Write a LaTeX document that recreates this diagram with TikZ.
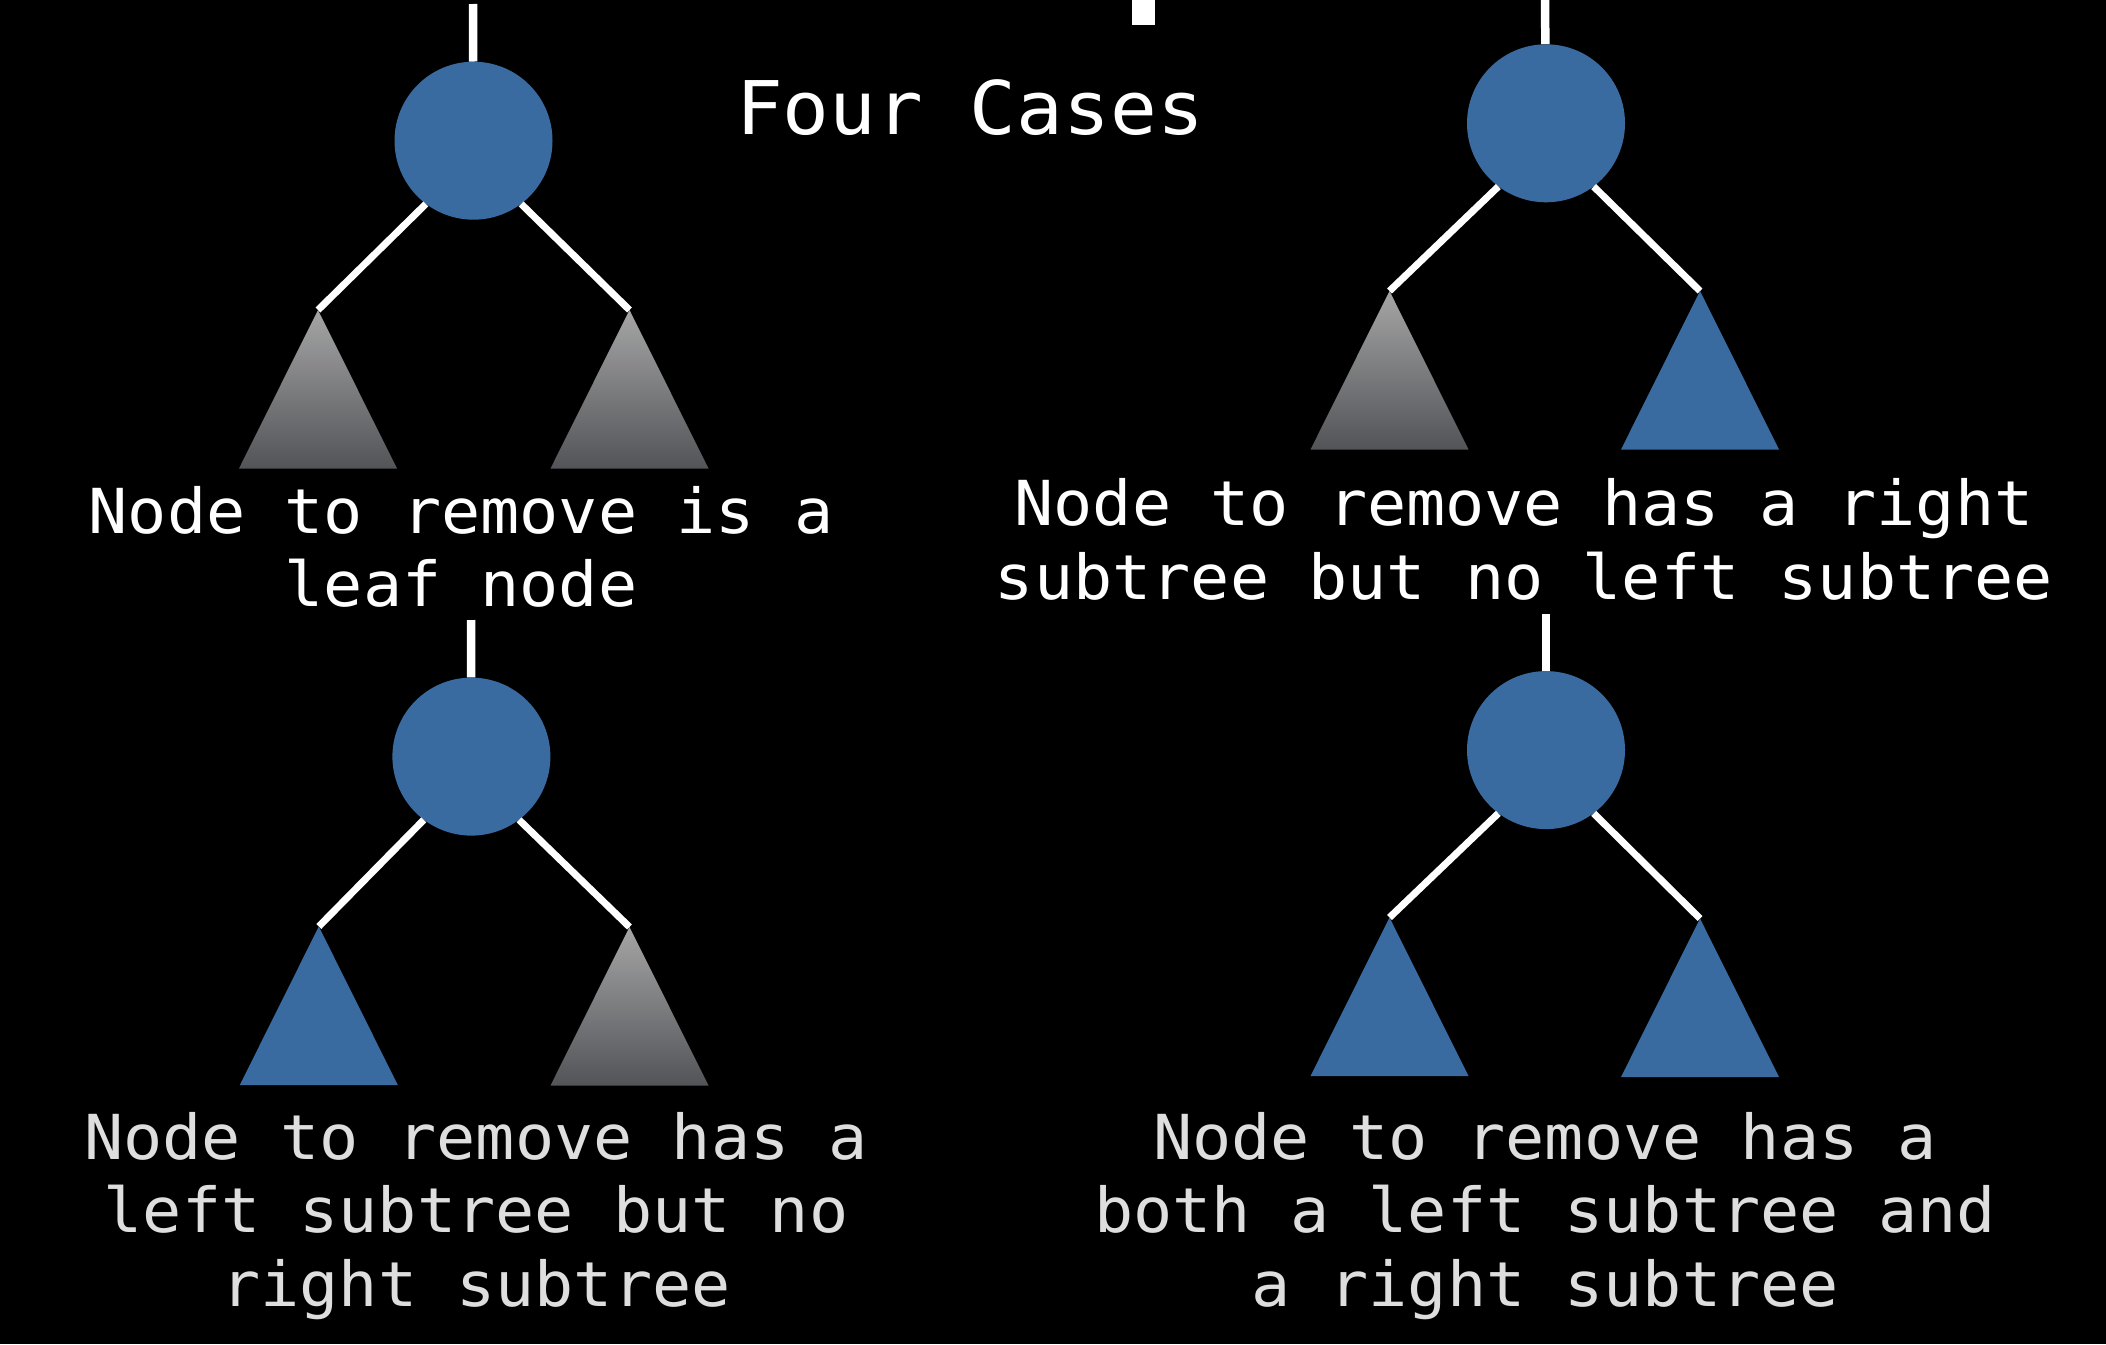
\documentclass[tikz,border=0pt]{standalone}
\usepackage{fontspec}
\newfontfamily\capfont[FakeStretch=1.05]{DejaVu Sans Mono}
\definecolor{nodeblue}{RGB}{58,107,160}
\definecolor{treetop}{RGB}{165,165,165}
\definecolor{treebot}{RGB}{82,84,88}
\definecolor{softtext}{RGB}{222,222,222}
\begin{document}
\begin{tikzpicture}[x=1pt,y=-1pt,
  bnode/.style={circle,fill=nodeblue,minimum size=158pt,inner sep=0pt},
  link/.style={draw=white,line width=7pt},
  stem/.style={draw=white,line width=8.5pt},
  blueTri/.style={fill=nodeblue},
  grayTri/.style={top color=treetop,bottom color=treebot},
  caption/.style={anchor=base,align=center,font=\capfont\fontsize{62}{73.5}\selectfont},
  ]
\fill[black] (0,0) rectangle (2106,1344);
\useasboundingbox (0,0) rectangle (2106,1344);

% title and top bar
\node[anchor=base,text=white,font=\capfont\fontsize{74}{86}\selectfont] (title) at (970,134.7) {Four Cases};
\fill[white] (1132,0) rectangle (1155,25);

% ---------- top-left: leaf node
\node[bnode] (tl) at (473.5,140.7) {};
\coordinate (tlTop) at (473,4);
\coordinate (tlL) at (318,310);
\coordinate (tlR) at (629.5,310);
\draw[stem] (tlTop) -- (tl);
\draw[link] (tl.233) -- (tlL);
\draw[link] (tl.307) -- (tlR);
\shade[grayTri] (tlL) -- ++(-79,158.5) -- ++(158,0) -- cycle;
\shade[grayTri] (tlR) -- ++(-79,158.5) -- ++(158,0) -- cycle;
\node[caption,text=white] (tlText) at (461,606.8) {Node to remove is a\\leaf node};

% ---------- top-right: right subtree only
\node[bnode] (tr) at (1546,123.3) {};
\coordinate (trTop) at (1545,0);
\coordinate (trL) at (1389.5,291);
\coordinate (trR) at (1700,291);
\draw[stem] (trTop) -- (tr);
\draw[link] (tr.233) -- (trL);
\draw[link] (tr.307) -- (trR);
\shade[grayTri] (trL) -- ++(-79,158.5) -- ++(158,0) -- cycle;
\fill[blueTri] (trR) -- ++(-79,158.5) -- ++(158,0) -- cycle;
\node[caption,text=white] (trText) at (1524,599) {Node to remove has a right\\subtree but no left subtree};

% ---------- bottom-left: left subtree only
\node[bnode] (bl) at (471.4,756.6) {};
\coordinate (blTop) at (471,620);
\coordinate (blL) at (318.8,926.5);
\coordinate (blR) at (629.5,927);
\draw[stem] (blTop) -- (bl);
\draw[link] (bl.233) -- (blL);
\draw[link] (bl.307) -- (blR);
\fill[blueTri] (blL) -- ++(-79,158.5) -- ++(158,0) -- cycle;
\shade[grayTri] (blR) -- ++(-79,158.5) -- ++(158,0) -- cycle;
\node[caption,text=softtext] (blText) at (476,1306) {Node to remove has a\\left subtree but no\\right subtree};

% ---------- bottom-right: both subtrees
\node[bnode] (br) at (1546,750.1) {};
\coordinate (brTop) at (1546,614);
\coordinate (brL) at (1389.5,917.5);
\coordinate (brR) at (1700,918.5);
\draw[stem] (brTop) -- (br);
\draw[link] (br.233) -- (brL);
\draw[link] (br.307) -- (brR);
\fill[blueTri] (brL) -- ++(-79,158.5) -- ++(158,0) -- cycle;
\fill[blueTri] (brR) -- ++(-79,158.5) -- ++(158,0) -- cycle;
\node[caption,text=softtext] (brText) at (1545,1306) {Node to remove has a\\both a left subtree and\\a right subtree};
\end{tikzpicture}
\end{document}
